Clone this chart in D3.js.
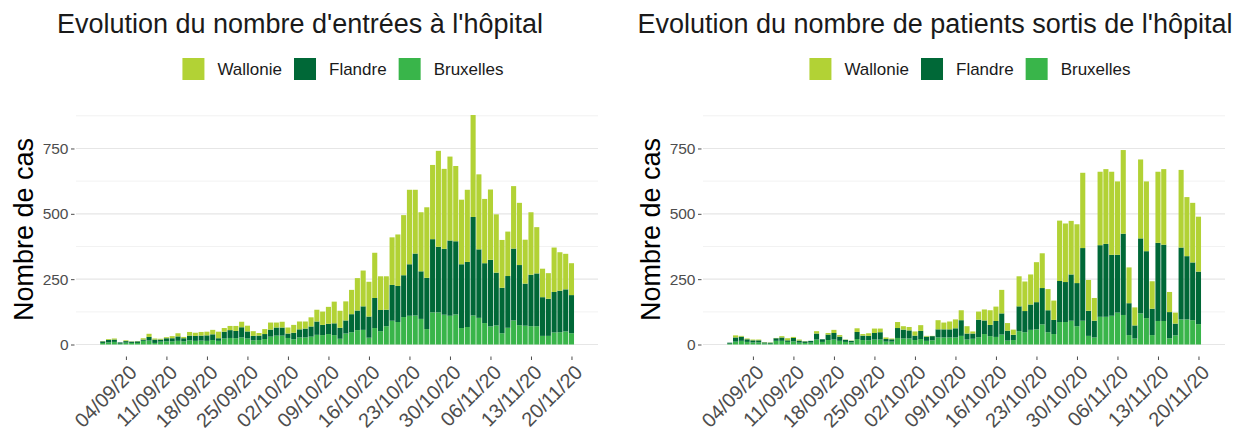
<!DOCTYPE html>
<html>
<head>
<meta charset="utf-8">
<script src="https://cdn.jsdelivr.net/npm/d3@7"></script>
<style>
  body { margin: 0; background: #fff; }
  text { font-family: "Liberation Sans", Arial, sans-serif; }
</style>
</head>
<body>
<div id="chart"></div>
<script>
// DATA

var regions = ["Wallonie", "Flandre", "Bruxelles"];
var region_color = ["#b2d235", "#006837", "#39b54a"];

var first_day = "31/08/20";
var nb_days = 82;
var tick_labels = ["04/09/20", "11/09/20", "18/09/20", "25/09/20", "02/10/20", "09/10/20",
  "16/10/20", "23/10/20", "30/10/20", "06/11/20", "13/11/20", "20/11/20"];
var y_major = [0, 250, 500, 750];
var y_minor = [125, 375, 625, 875];

// entrées à l'hôpital
var in_bxl = [6, 8, 10, 3, 7, 6, 6, 14, 15, 6, 11, 12, 12, 14, 12, 16, 14, 15, 14, 17,
  14, 23, 25, 24, 27, 23, 16, 17, 21, 30, 34, 34, 25, 20, 27, 27, 30, 37, 36, 40,
  36, 22, 42, 47, 55, 56, 26, 63, 51, 70, 91, 86, 105, 110, 111, 98, 59, 123, 123, 114,
  110, 115, 63, 67, 111, 102, 82, 69, 73, 43, 64, 92, 74, 72, 70, 70, 33, 33, 46, 47, 50, 43];
var in_fla = [6, 10, 9, 5, 6, 5, 6, 5, 14, 13, 8, 12, 12, 17, 12, 18, 19, 19, 21, 22,
  10, 26, 30, 28, 39, 27, 17, 17, 19, 27, 31, 31, 17, 25, 31, 34, 39, 51, 39, 39,
  45, 42, 50, 69, 75, 90, 81, 115, 81, 63, 137, 138, 160, 197, 237, 182, 196, 280, 251, 252,
  288, 280, 244, 249, 377, 262, 229, 255, 202, 174, 198, 275, 230, 161, 197, 202, 148, 142, 155, 159, 161, 146];
var in_wal = [1, 3, 4, 0, 3, 1, 1, 5, 12, 4, 3, 4, 8, 12, 5, 14, 12, 14, 14, 17,
  25, 14, 16, 19, 21, 22, 18, 10, 19, 27, 19, 22, 23, 30, 30, 27, 35, 45, 51, 65,
  83, 65, 73, 93, 124, 137, 133, 173, 129, 128, 182, 197, 230, 285, 244, 226, 270, 284, 367, 306,
  321, 288, 247, 276, 390, 287, 246, 269, 223, 183, 170, 239, 238, 168, 239, 177, 109, 98, 170, 147, 136, 122];

// patients sortis
var out_bxl = [3, 11, 14, 10, 8, 8, 4, 3, 14, 14, 10, 12, 7, 6, 7, 19, 10, 17, 19, 14,
  10, 8, 21, 17, 16, 19, 19, 11, 11, 25, 23, 23, 17, 21, 14, 16, 27, 27, 27, 27,
  33, 19, 22, 28, 40, 32, 29, 38, 15, 17, 51, 47, 56, 58, 77, 47, 40, 86, 86, 91,
  70, 91, 33, 27, 106, 106, 110, 122, 113, 36, 23, 119, 101, 36, 90, 90, 24, 35, 96, 96, 93, 78];
var out_fla = [4, 16, 16, 10, 8, 8, 4, 4, 10, 13, 6, 13, 8, 6, 7, 23, 10, 21, 25, 16,
  8, 6, 27, 17, 17, 25, 28, 10, 9, 38, 34, 31, 17, 31, 16, 16, 31, 31, 31, 35,
  60, 23, 20, 67, 52, 43, 61, 81, 38, 20, 95, 81, 97, 104, 139, 84, 54, 157, 153, 177,
  165, 278, 96, 64, 274, 279, 233, 221, 311, 122, 50, 287, 256, 101, 299, 292, 100, 45, 275, 242, 221, 201];
var out_wal = [0, 8, 3, 3, 3, 3, 1, 1, 1, 5, 8, 4, 4, 1, 0, 9, 0, 6, 12, 6,
  1, 1, 14, 6, 10, 17, 14, 6, 3, 23, 13, 13, 16, 22, 3, 1, 35, 26, 30, 34,
  38, 28, 8, 31, 42, 56, 55, 90, 29, 20, 115, 113, 115, 153, 133, 81, 74, 231, 224, 205,
  225, 288, 118, 87, 281, 286, 318, 281, 320, 137, 69, 302, 267, 105, 272, 289, 77, 42, 297, 226, 228, 210];

// LAYOUT

var width = 1235;
var height = 432;
var panel_width = 522;
var panel_top = 103;
var panel_bottom = 356;
var y_max = 924;
var y_min = -44;
var grey = "#4d4d4d";

var parse_day = d3.utcParse("%d/%m/%y");
var fmt_day = d3.utcFormat("%d/%m/%y");
var start = parse_day(first_day);
var days = d3.range(nb_days).map(function(i) { return d3.utcDay.offset(start, i); });

function build_rows(bxl, fla, wal) {
  return days.map(function(d, i) {
    return {date: d, Bruxelles: bxl[i], Flandre: fla[i], Wallonie: wal[i]};
  });
}

var panels = [
  {title: "Evolution du nombre d'entrées à l'hôpital", left: 76, title_x: 300,
   rows: build_rows(in_bxl, in_fla, in_wal)},
  {title: "Evolution du nombre de patients sortis de l'hôpital", left: 703, title_x: 935,
   rows: build_rows(out_bxl, out_fla, out_wal)}
];

var svg = d3.select("#chart").append("svg")
  .attr("width", width)
  .attr("height", height);

var stack = d3.stack().keys(["Bruxelles", "Flandre", "Wallonie"]);

function color_of(key) {
  return region_color[regions.indexOf(key)];
}

function draw_panel(p) {
  var pad = 4.6;  // ggplot expansion in days (5% + half bar)
  var x = d3.scaleUtc()
    .domain([d3.utcHour.offset(days[0], -pad * 24), d3.utcHour.offset(days[nb_days - 1], pad * 24)])
    .range([p.left, p.left + panel_width]);
  var y = d3.scaleLinear()
    .domain([y_min, y_max])
    .range([panel_bottom, panel_top]);
  var day_px = x(days[1]) - x(days[0]);
  var bar_w = day_px * 0.88;

  var g = svg.append("g");

  // grid
  g.selectAll(".minor").data(y_minor).enter().append("line")
    .attr("x1", p.left).attr("x2", p.left + panel_width)
    .attr("y1", function(d) { return y(d); }).attr("y2", function(d) { return y(d); })
    .attr("stroke", "#f0f0f0").attr("stroke-width", 0.9);
  g.selectAll(".major").data(y_major).enter().append("line")
    .attr("x1", p.left).attr("x2", p.left + panel_width)
    .attr("y1", function(d) { return y(d); }).attr("y2", function(d) { return y(d); })
    .attr("stroke", "#e6e6e6").attr("stroke-width", 1.2);

  // bars
  var series = stack(p.rows);
  g.selectAll(".serie").data(series).enter().append("g")
      .attr("fill", function(s) { return color_of(s.key); })
    .selectAll("rect").data(function(s) { return s; }).enter().append("rect")
      .attr("x", function(d) { return x(d.data.date) - bar_w / 2; })
      .attr("width", bar_w)
      .attr("y", function(d) { return y(d[1]); })
      .attr("height", function(d) { return Math.max(0, y(d[0]) - y(d[1])); });

  // y axis
  var ya = g.append("g")
    .attr("transform", "translate(" + (p.left - 1.5) + ",0)")
    .call(d3.axisLeft(y).tickValues(y_major).tickSize(3.5).tickPadding(2.5));
  ya.select(".domain").remove();
  ya.selectAll("line").attr("stroke", grey);
  ya.selectAll("text").attr("fill", grey).attr("font-size", "15.5px")
    .style("font-family", "'Liberation Sans', Arial, sans-serif");

  // x axis
  var xa = g.append("g")
    .attr("transform", "translate(0," + (panel_bottom + 0.5) + ")")
    .call(d3.axisBottom(x).tickValues(tick_labels.map(parse_day)).tickFormat(fmt_day).tickSize(3.5));
  xa.select(".domain").remove();
  xa.selectAll("line").attr("stroke", grey);
  xa.selectAll("text")
    .attr("fill", grey)
    .attr("font-size", "20px")
    .style("font-family", "'Liberation Sans', Arial, sans-serif")
    .attr("text-anchor", "end")
    .attr("y", 0).attr("dy", "0.72em")
    .attr("transform", "translate(1.5,7) rotate(-45)");

  // y title
  g.append("text")
    .attr("transform", "translate(" + (p.left - 43) + "," + ((panel_top + panel_bottom) / 2) + ") rotate(-90)")
    .attr("text-anchor", "middle")
    .attr("font-size", "27px")
    .attr("fill", "#000")
    .text("Nombre de cas");

  // title
  g.append("text")
    .attr("x", p.title_x).attr("y", 33)
    .attr("text-anchor", "middle")
    .attr("font-size", "27px")
    .attr("fill", "#1a1a1a")
    .text(p.title);

  // legend
  var lg = g.append("g");
  var cx = 0;
  regions.forEach(function(r, i) {
    lg.append("rect")
      .attr("x", cx).attr("y", 58).attr("width", 22).attr("height", 22)
      .attr("fill", region_color[i]);
    var t = lg.append("text")
      .attr("x", cx + 35).attr("y", 75)
      .attr("font-size", "17px")
      .attr("fill", "#1a1a1a")
      .text(r);
    cx += 35 + t.node().getComputedTextLength() + 12;
  });
  var lw = cx - 12;
  lg.attr("transform", "translate(" + (p.left + panel_width / 2 + 6 - lw / 2) + ",0)");
}

panels.forEach(draw_panel);
</script>
</body>
</html>
